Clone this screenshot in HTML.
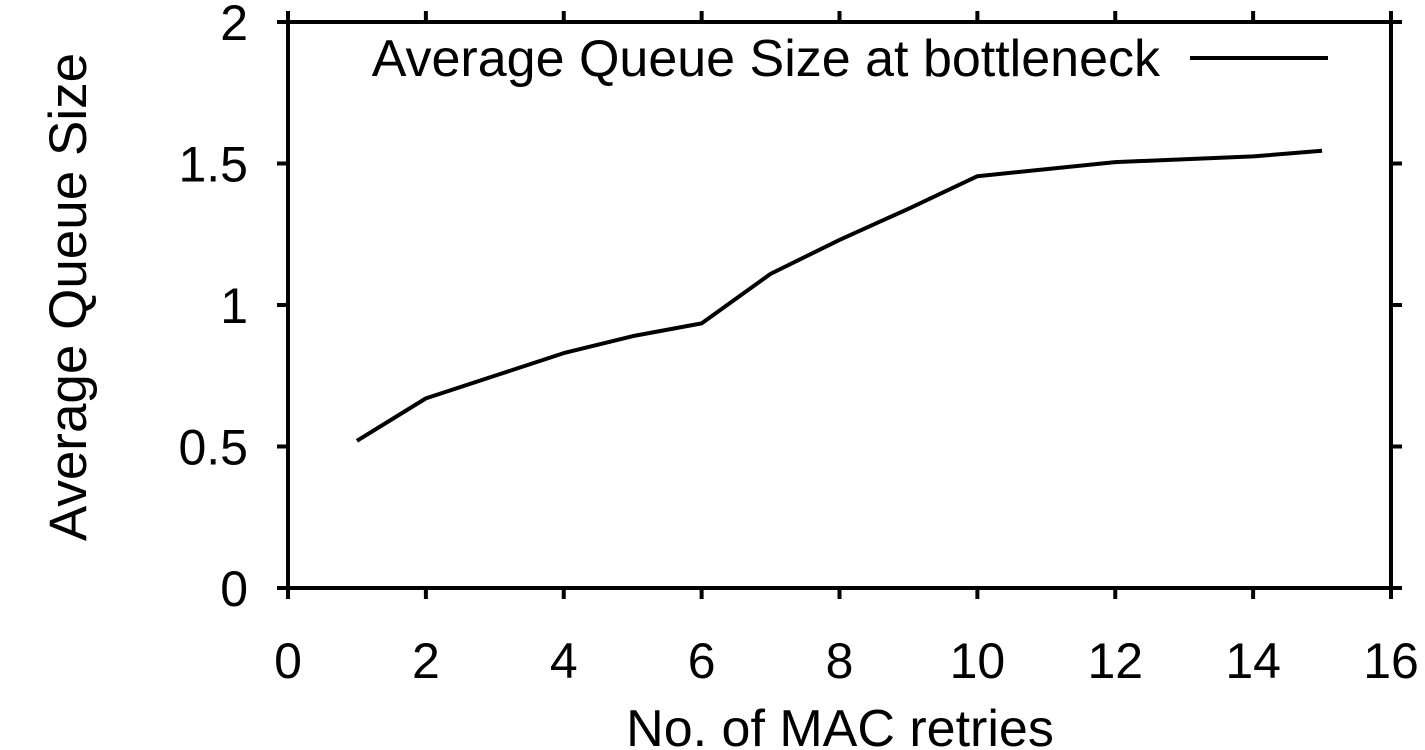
<!DOCTYPE html>
<html><head><meta charset="utf-8"><style>
body{margin:0;background:#fff;}
svg{display:block;font-family:"Liberation Sans",Arial,sans-serif;}
</style></head><body>
<svg id="chart" width="1425" height="750" viewBox="0 0 1425 750">
<g id="axes"></g>
<g id="series"></g>
<text x="1160" y="76" font-size="52" text-anchor="end">Average Queue Size at bottleneck</text>
<line x1="1190" y1="58" x2="1328" y2="58" stroke="#000" stroke-width="4"/>
<text x="840" y="746" font-size="52" text-anchor="middle">No. of MAC retries</text>
<text transform="translate(86,297) rotate(-90)" font-size="53" text-anchor="middle">Average Queue Size</text>
</svg>
<script>
const xValues=[1,2,3,4,5,6,7,8,9,10,12,14,15];
const yValues=[0.52,0.67,0.75,0.83,0.89,0.935,1.11,1.23,1.34,1.455,1.505,1.525,1.545];
const xTicks=[0,2,4,6,8,10,12,14,16];
const yTicks=[0,0.5,1,1.5,2];
const yTickLabels=["0","0.5","1","1.5","2"];
const L=288,R=1391,T=22,B=588;
const sx=v=>L+(v-0)/(16-0)*(R-L);
const sy=v=>B-(v-0)/(2-0)*(B-T);
const NS="http://www.w3.org/2000/svg";
const axes=document.getElementById('axes');
function mk(tag,attrs,parent){const e=document.createElementNS(NS,tag);for(const k in attrs)e.setAttribute(k,attrs[k]);parent.appendChild(e);return e;}
const frame=mk('rect',{x:L,y:T,width:R-L,height:B-T,fill:'none',stroke:'#000','stroke-width':4},axes);


xTicks.forEach(v=>{
  const x=sx(v);
  const t1=mk('line',{x1:x,y1:B,x2:x,y2:B+11,stroke:'#000','stroke-width':4},axes);
  
  
  const t2=mk('line',{x1:x,y1:T,x2:x,y2:T-11,stroke:'#000','stroke-width':4},axes);
  
  
  const lb=mk('text',{x:x,y:678,'font-size':50,'text-anchor':'middle'},axes);
  lb.textContent=String(v);
  
  
});
yTicks.forEach((v,i)=>{
  const y=sy(v);
  const t1=mk('line',{x1:L,y1:y,x2:L-11,y2:y,stroke:'#000','stroke-width':4},axes);
  
  
  const t2=mk('line',{x1:R,y1:y,x2:R+11,y2:y,stroke:'#000','stroke-width':4},axes);
  
  
  const lb=mk('text',{x:248,y:y+18,'font-size':50,'text-anchor':'end'},axes);
  lb.textContent=yTickLabels[i];
  
  
});
const pts=xValues.map((x,i)=>sx(x)+','+sy(yValues[i])).join(' ');
const line=mk('polyline',{points:pts,fill:'none',stroke:'#000','stroke-width':4,'stroke-linejoin':'round'},document.getElementById('series'));


</script>
</body></html>
